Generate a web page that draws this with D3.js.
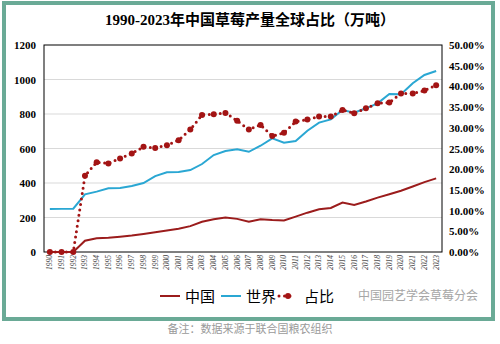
<!DOCTYPE html>
<html>
<head>
<meta charset="utf-8">
<script src="https://cdn.jsdelivr.net/npm/d3@7"></script>
<style>
  body { margin: 0; background: #fff; }
</style>
</head>
<body>
<svg width="500" height="344"></svg>
<script>
var years = d3.range(1990, 2024).map(String);
// 万吨
var china = [0, 0, 0, 65, 80, 82, 88, 95, 105, 115, 125, 135, 150, 175, 190, 200, 192, 175, 190, 185, 183, 205, 228, 248, 255, 287, 273, 293, 315, 335, 355, 380, 405, 427];
var world = [249, 250, 251, 334, 350, 369, 371, 383, 400, 440, 462, 464, 475, 510, 562, 585, 595, 581, 616, 659, 634, 643, 703, 750, 769, 823, 808, 833, 862, 916, 914, 978, 1026, 1049];
// %
var share = [0, 0, 0, 18.4, 21.7, 21.4, 22.6, 23.8, 25.4, 25.1, 25.8, 27.0, 29.6, 33.1, 33.3, 33.6, 31.7, 29.6, 30.7, 28.0, 28.8, 31.5, 32.0, 32.7, 32.7, 34.3, 33.5, 34.7, 35.9, 36.1, 38.3, 38.3, 39.0, 40.3];
var leftTicks = [0, 200, 400, 600, 800, 1000, 1200];
var rightTicks = [0, 5, 10, 15, 20, 25, 30, 35, 40, 45, 50];

var svg = d3.select("svg"),
  plotL = 44, plotR = 442, plotT = 45, plotB = 252;

var serif = "'Liberation Serif', 'Times New Roman', serif";
var cjk = "'Liberation Serif', 'Noto Sans CJK SC', serif";

// green frame
svg.append("rect")
  .attr("x", 4).attr("y", 3)
  .attr("width", 489).attr("height", 316)
  .style("fill", "#fff")
  .style("stroke", "#6aaa96")
  .style("stroke-width", 4);

svg.append("text")
  .attr("x", 250).attr("y", 25)
  .attr("text-anchor", "middle")
  .style("font-family", cjk)
  .style("font-weight", "bold")
  .style("font-size", "15px")
  .text("1990-2023年中国草莓产量全球占比（万吨）");

var x = d3.scaleBand().domain(years).range([plotL, plotR]);
var y = d3.scaleLinear().domain([0, 1200]).range([plotB, plotT]);
var y2 = d3.scaleLinear().domain([0, 50]).range([plotB, plotT]);
var cx = function (d, i) { return x(years[i]) + x.bandwidth() / 2; };

// gridlines
svg.append("g")
  .selectAll("line")
  .data(leftTicks.slice(1, -1))
  .enter()
  .append("line")
  .attr("x1", plotL).attr("x2", plotR)
  .attr("y1", (d) => y(d)).attr("y2", (d) => y(d))
  .style("stroke", "#d9d9d9")
  .style("stroke-width", 1);

// plot border
svg.append("rect")
  .attr("x", plotL).attr("y", plotT)
  .attr("width", plotR - plotL).attr("height", plotB - plotT)
  .style("fill", "none")
  .style("stroke", "#000")
  .style("stroke-width", 1);

var yAxis = svg.append("g")
  .attr("transform", "translate(" + plotL + ",0)")
  .call(d3.axisLeft(y).tickValues(leftTicks).tickSize(0).tickPadding(8)
    .tickFormat(d3.format("d")));
yAxis.select(".domain").remove();
yAxis.selectAll("text")
  .style("font-family", serif)
  .style("font-weight", "bold")
  .style("font-size", "11px")
  .style("fill", "#000");

var y2Axis = svg.append("g")
  .attr("transform", "translate(" + plotR + ",0)")
  .call(d3.axisRight(y2).tickValues(rightTicks).tickSize(0).tickPadding(7)
    .tickFormat((d) => d.toFixed(2) + "%"));
y2Axis.select(".domain").remove();
y2Axis.selectAll("text")
  .style("font-family", serif)
  .style("font-weight", "bold")
  .style("font-size", "11px")
  .style("fill", "#000");

var xAxis = svg.append("g")
  .attr("transform", "translate(0," + plotB + ")")
  .call(d3.axisBottom(x).tickSize(0).tickPadding(3));
xAxis.select(".domain").remove();
xAxis.selectAll("text")
  .attr("transform", "rotate(-90)")
  .attr("x", -3).attr("y", 0).attr("dy", "0.32em")
  .attr("text-anchor", "end")
  .style("font-family", serif)
  .style("font-style", "italic")
  .style("font-size", "7.5px")
  .style("fill", "#444");

var lineL = d3.line().x(cx).y((d) => y(d));
var lineR = d3.line().x(cx).y((d) => y2(d));

svg.append("path")
  .datum(world)
  .attr("d", lineL)
  .style("fill", "none")
  .style("stroke", "#2aa7d3")
  .style("stroke-width", 2);

svg.append("path")
  .datum(china)
  .attr("d", lineL)
  .style("fill", "none")
  .style("stroke", "#9b1c1c")
  .style("stroke-width", 2);

svg.append("path")
  .datum(share)
  .attr("d", lineR)
  .style("fill", "none")
  .style("stroke", "#a31414")
  .style("stroke-width", 3)
  .style("stroke-linecap", "round")
  .style("stroke-dasharray", "0 5.5");

svg.append("g")
  .selectAll("circle")
  .data(share)
  .enter()
  .append("circle")
  .attr("cx", cx)
  .attr("cy", (d) => y2(d))
  .attr("r", 3)
  .style("fill", "#a31414");

// legend
var lg = svg.append("g").attr("transform", "translate(0,296)");
lg.append("line").attr("x1", 160).attr("x2", 180).attr("y1", 0).attr("y2", 0)
  .style("stroke", "#9b1c1c").style("stroke-width", 2);
lg.append("text").attr("x", 185).attr("y", 6).text("中国");
lg.append("line").attr("x1", 221).attr("x2", 241).attr("y1", 0).attr("y2", 0)
  .style("stroke", "#2aa7d3").style("stroke-width", 2);
lg.append("text").attr("x", 246).attr("y", 6).text("世界");
lg.append("line").attr("x1", 279).attr("x2", 295).attr("y1", 0).attr("y2", 0)
  .style("stroke", "#a31414").style("stroke-width", 3)
  .style("stroke-linecap", "round").style("stroke-dasharray", "0 5.5");
lg.append("circle").attr("cx", 288).attr("cy", 0).attr("r", 3).style("fill", "#a31414");
lg.append("text").attr("x", 304).attr("y", 6).text("占比");
lg.selectAll("text")
  .style("font-family", cjk)
  .style("font-size", "15px")
  .style("fill", "#000");

// watermark
svg.append("text")
  .attr("x", 478).attr("y", 300)
  .attr("text-anchor", "end")
  .style("font-family", "'Noto Sans CJK SC', sans-serif")
  .style("font-size", "12px")
  .style("fill", "#a6a6a6")
  .text("中国园艺学会草莓分会");

svg.append("text")
  .attr("x", 250).attr("y", 333)
  .attr("text-anchor", "middle")
  .style("font-family", "'Noto Sans CJK SC', sans-serif")
  .style("font-size", "11px")
  .style("fill", "#9a9a9a")
  .text("备注：数据来源于联合国粮农组织");
</script>
</body>
</html>
